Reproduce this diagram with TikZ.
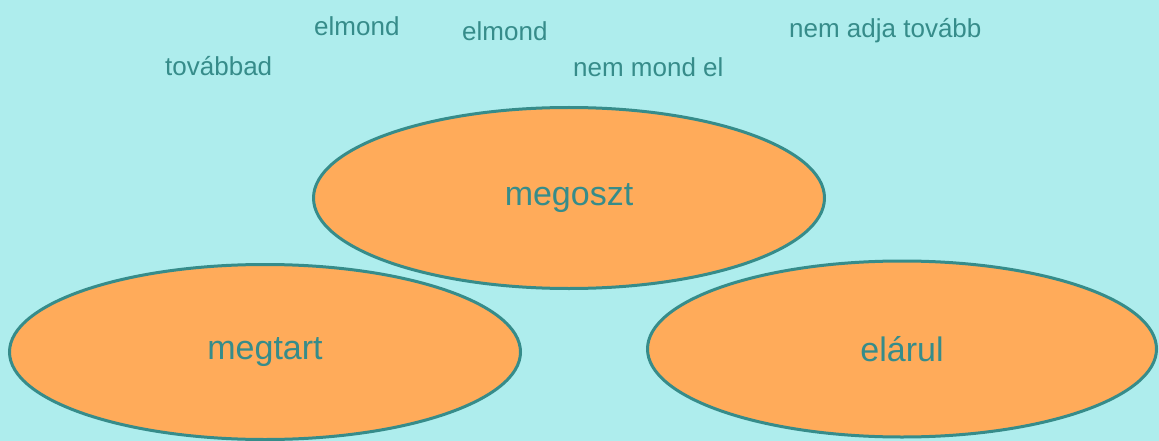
\documentclass[tikz,border=0pt]{standalone}
\usepackage{fontspec}
\setmainfont{Liberation Sans}
\usepackage{tikz}
\usetikzlibrary{shapes}
\definecolor{aqua}{RGB}{174,237,237}
\definecolor{peach}{RGB}{255,171,90}
\definecolor{tealline}{RGB}{54,140,138}
\tikzstyle{blob}=[ellipse, draw=tealline, line width=3pt, fill=peach, text=tealline, inner sep=0pt, font=\fontsize{34}{40}\selectfont]
\tikzstyle{word}=[anchor=base west, inner sep=0pt, text=tealline, font=\fontsize{26}{30}\selectfont]

\begin{document}
\begin{tikzpicture}[x=1pt, y=-1pt]
	\fill[aqua] (0,0) rectangle (1159,441);
	\useasboundingbox (0,0) rectangle (1159,441);
	\node[blob, minimum width=511pt, minimum height=181pt] (megoszt) at (569,198) {megoszt};
	\node[blob, minimum width=511pt, minimum height=175pt] (megtart) at (265,352) {megtart};
	\node[blob, minimum width=509pt, minimum height=176pt] (elarul) at (902,349) {elárul};
	\foreach \n/\x/\y/\t in {tovabbad/165/76/továbbad, elmondA/314/36/elmond, elmondB/462/41/elmond, nemmond/573/77/nem mond el, nemadja/789/38/nem adja tovább}{
		\node[word] (\n) at (\x,\y) {\t};
	}
\end{tikzpicture}
\end{document}
